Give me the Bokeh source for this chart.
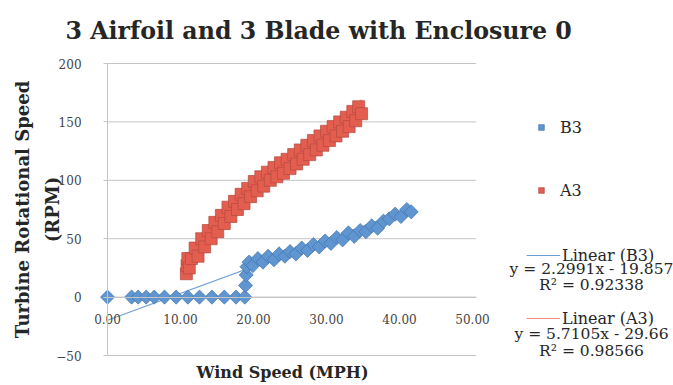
import numpy as np
from math import pi
from bokeh.plotting import figure
from bokeh.models import (Range1d, Legend, LegendItem, Label,
                          NumeralTickFormatter, FixedTicker)
from bokeh.embed import file_html
from bokeh.resources import INLINE

# ---------------- data ----------------
title_text = "3 Airfoil and 3 Blade with Enclosure 0"
x_title = "Wind Speed (MPH)"
y_title = "Turbine Rotational Speed\n(RPM)"
x_ticks = [0, 10, 20, 30, 40, 50]
y_ticks = [-50, 0, 50, 100, 150, 200]

b3_x = [0.0, 3.3, 4.2, 5.3, 6.4, 7.8, 9.4, 11.0, 12.6, 14.3, 16.0, 17.6, 18.8,
        18.9, 19.0, 19.1, 19.4, 19.9, 20.6, 21.3, 22.0, 22.8, 23.5, 24.3, 25.0,
        25.8, 26.6, 27.4, 28.2, 29.0, 29.8, 30.6, 31.4, 32.2, 33.0, 33.8, 34.6,
        35.4, 36.2, 37.0, 37.8, 38.6, 39.4, 40.2, 41.0, 41.6]
b3_y = [0, 0, 0, 0, 0, 0, 0, 0, 0, 0, 0, 0, 0,
        10, 19, 26, 30, 27, 33, 30, 35, 32, 37, 35, 39,
        37, 42, 40, 45, 43, 48, 46, 51, 49, 55, 52, 57,
        56, 61, 59, 65, 67, 71, 69, 75, 73]

a3_x = [10.8, 10.9, 11.0, 11.2, 11.5, 12.0, 12.4, 12.9, 13.3, 13.8, 14.2, 14.7,
        15.1, 15.6, 16.0, 16.5, 16.9, 17.4, 17.8, 18.3, 18.7, 19.2, 19.6, 20.1,
        20.5, 21.0, 21.4, 21.9, 22.3, 22.8, 23.2, 23.7, 24.1, 24.6, 25.0, 25.5,
        25.9, 26.4, 26.8, 27.3, 27.7, 28.2, 28.6, 29.1, 29.5, 30.0, 30.4, 30.9,
        31.3, 31.8, 32.2, 32.7, 33.1, 33.6, 34.0, 34.4, 34.8]
a3_y = [20, 27, 33, 25, 33, 42, 35, 50, 43, 57, 50, 64,
        56, 70, 63, 77, 69, 82, 75, 88, 80, 93, 86, 99,
        91, 103, 95, 107, 100, 111, 103, 115, 106, 118, 110, 122,
        114, 126, 118, 130, 122, 134, 126, 138, 130, 142, 134, 146,
        138, 150, 142, 154, 146, 159, 151, 163, 157]

b3_slope, b3_intercept, b3_r2 = 2.2991, -19.857, "0.92338"
a3_slope, a3_intercept, a3_r2 = 5.7105, -29.66, "0.98566"

# ---------------- styles ----------------
SERIF = "DejaVu Serif"
BLUE_FILL, BLUE_LINE = "#5F95D0", "#4474AB"
RED_FILL, RED_LINE = "#E45E50", "#B24A40"
GRID = "#C4C4C4"
TXT = "#262626"
TICK_TXT = "#444444"

X_AXIS_END = 50.5
# the frame covers the whole canvas below the title; the data area is
# x 0..50.5, y -50..200 inside it
p = figure(width=673, height=385,
           x_range=Range1d(-14.66, 77.53), y_range=Range1d(-75.68, 216.27),
           output_backend="svg", toolbar_location=None,
           min_border_left=0, min_border_right=0, min_border_top=44,
           min_border_bottom=0)
p.outline_line_color = None
p.xgrid.visible = False
p.ygrid.visible = False

# title
p.title.text = title_text
p.title.align = "left"
p.title.offset = 65
p.title.text_font = SERIF
p.title.text_font_size = "23.7px"
p.title.text_font_style = "bold"
p.title.text_color = TXT
p.title.standoff = 0

# horizontal gridlines limited to the plot area
p.segment(x0=0, x1=X_AXIS_END, y0=y_ticks, y1=y_ticks, line_color=GRID,
          line_width=1)

# x axis crossing at y = 0
xa = p.xaxis[0]
xa.fixed_location = 0
xa.bounds = (0, X_AXIS_END)
xa.ticker = FixedTicker(ticks=x_ticks)
xa.formatter = NumeralTickFormatter(format="0.00")
xa.axis_line_color = GRID
xa.major_tick_out = 0
xa.major_tick_in = 0
xa.minor_tick_out = 0
xa.minor_tick_in = 0
xa.major_label_standoff = 17
xa.major_label_text_font = SERIF
xa.major_label_text_font_size = "12px"
xa.major_label_text_color = TICK_TXT

ya = p.yaxis[0]
ya.fixed_location = 0
ya.bounds = (-50, 200)
ya.ticker = FixedTicker(ticks=y_ticks)
ya.axis_line_color = GRID
ya.major_tick_out = 4
ya.major_tick_in = 0
ya.major_tick_line_color = GRID
ya.minor_tick_out = 0
ya.minor_tick_in = 0
ya.major_label_standoff = 22
ya.major_label_text_font = SERIF
ya.major_label_text_font_size = "12px"
ya.major_label_text_color = TICK_TXT
ya.axis_label = y_title
ya.axis_label_text_font = SERIF
ya.axis_label_text_font_size = "18px"
ya.axis_label_text_font_style = "bold"
ya.axis_label_text_color = TXT
ya.axis_label_standoff = -10
ya.axis_label_text_line_height = 1.43

p.add_layout(Label(x=282, y=13, x_units="screen", y_units="screen",
                   text=x_title, text_align="center", text_baseline="middle",
                   text_font=SERIF, text_font_size="16px",
                   text_font_style="bold", text_color=TXT))

# trendlines
bx = np.array([min(b3_x), max(b3_x)])
ax = np.array([min(a3_x), max(a3_x)])
r_bl = p.line(bx, b3_slope * bx + b3_intercept, line_color="#6F9FD6", line_width=1.2)
r_al = p.line(ax, a3_slope * ax + a3_intercept, line_color="#F08A80", line_width=1.2)

# scatter
r_a3 = p.scatter(a3_x, a3_y, marker="square", size=12, fill_color=RED_FILL,
                 line_color=RED_LINE, line_width=0.7)
r_b3 = p.scatter(b3_x, b3_y, marker="square", angle=pi / 4, size=10,
                 fill_color=BLUE_FILL, line_color=BLUE_LINE, line_width=0.7)

common = dict(padding=0, margin=0, border_line_color=None,
              background_fill_alpha=0, label_text_font=SERIF,
              label_text_color=TXT, label_text_font_size="16px",
              label_height=20, spacing=43)

leg1 = Legend(items=[LegendItem(label="B3", renderers=[r_b3]),
                     LegendItem(label="A3", renderers=[r_a3])],
              location=(534, 185), glyph_width=14, glyph_height=14,
              label_standoff=12, **common)
leg2 = Legend(items=[LegendItem(label="Linear (B3)", renderers=[r_bl]),
                     LegendItem(label="Linear (A3)", renderers=[r_al])],
              location=(526, 57), glyph_width=34, glyph_height=14,
              label_standoff=2, **common)
p.add_layout(leg1)
p.add_layout(leg2)

eq_lines = [
    ("y = %.4fx - %.3f" % (b3_slope, -b3_intercept), 117),
    ("R\u00b2 = " + b3_r2, 101),
    ("y = %.4fx - %.2f" % (a3_slope, -a3_intercept), 52),
    ("R\u00b2 = " + a3_r2, 35),
]
for txt, yy in eq_lines:
    p.add_layout(Label(x=591, y=yy, x_units="screen", y_units="screen",
                       text=txt, text_align="center", text_baseline="middle",
                       text_font=SERIF, text_font_size="15.5px",
                       text_color=TXT))

open("out.html", "w").write(file_html(p, INLINE))
